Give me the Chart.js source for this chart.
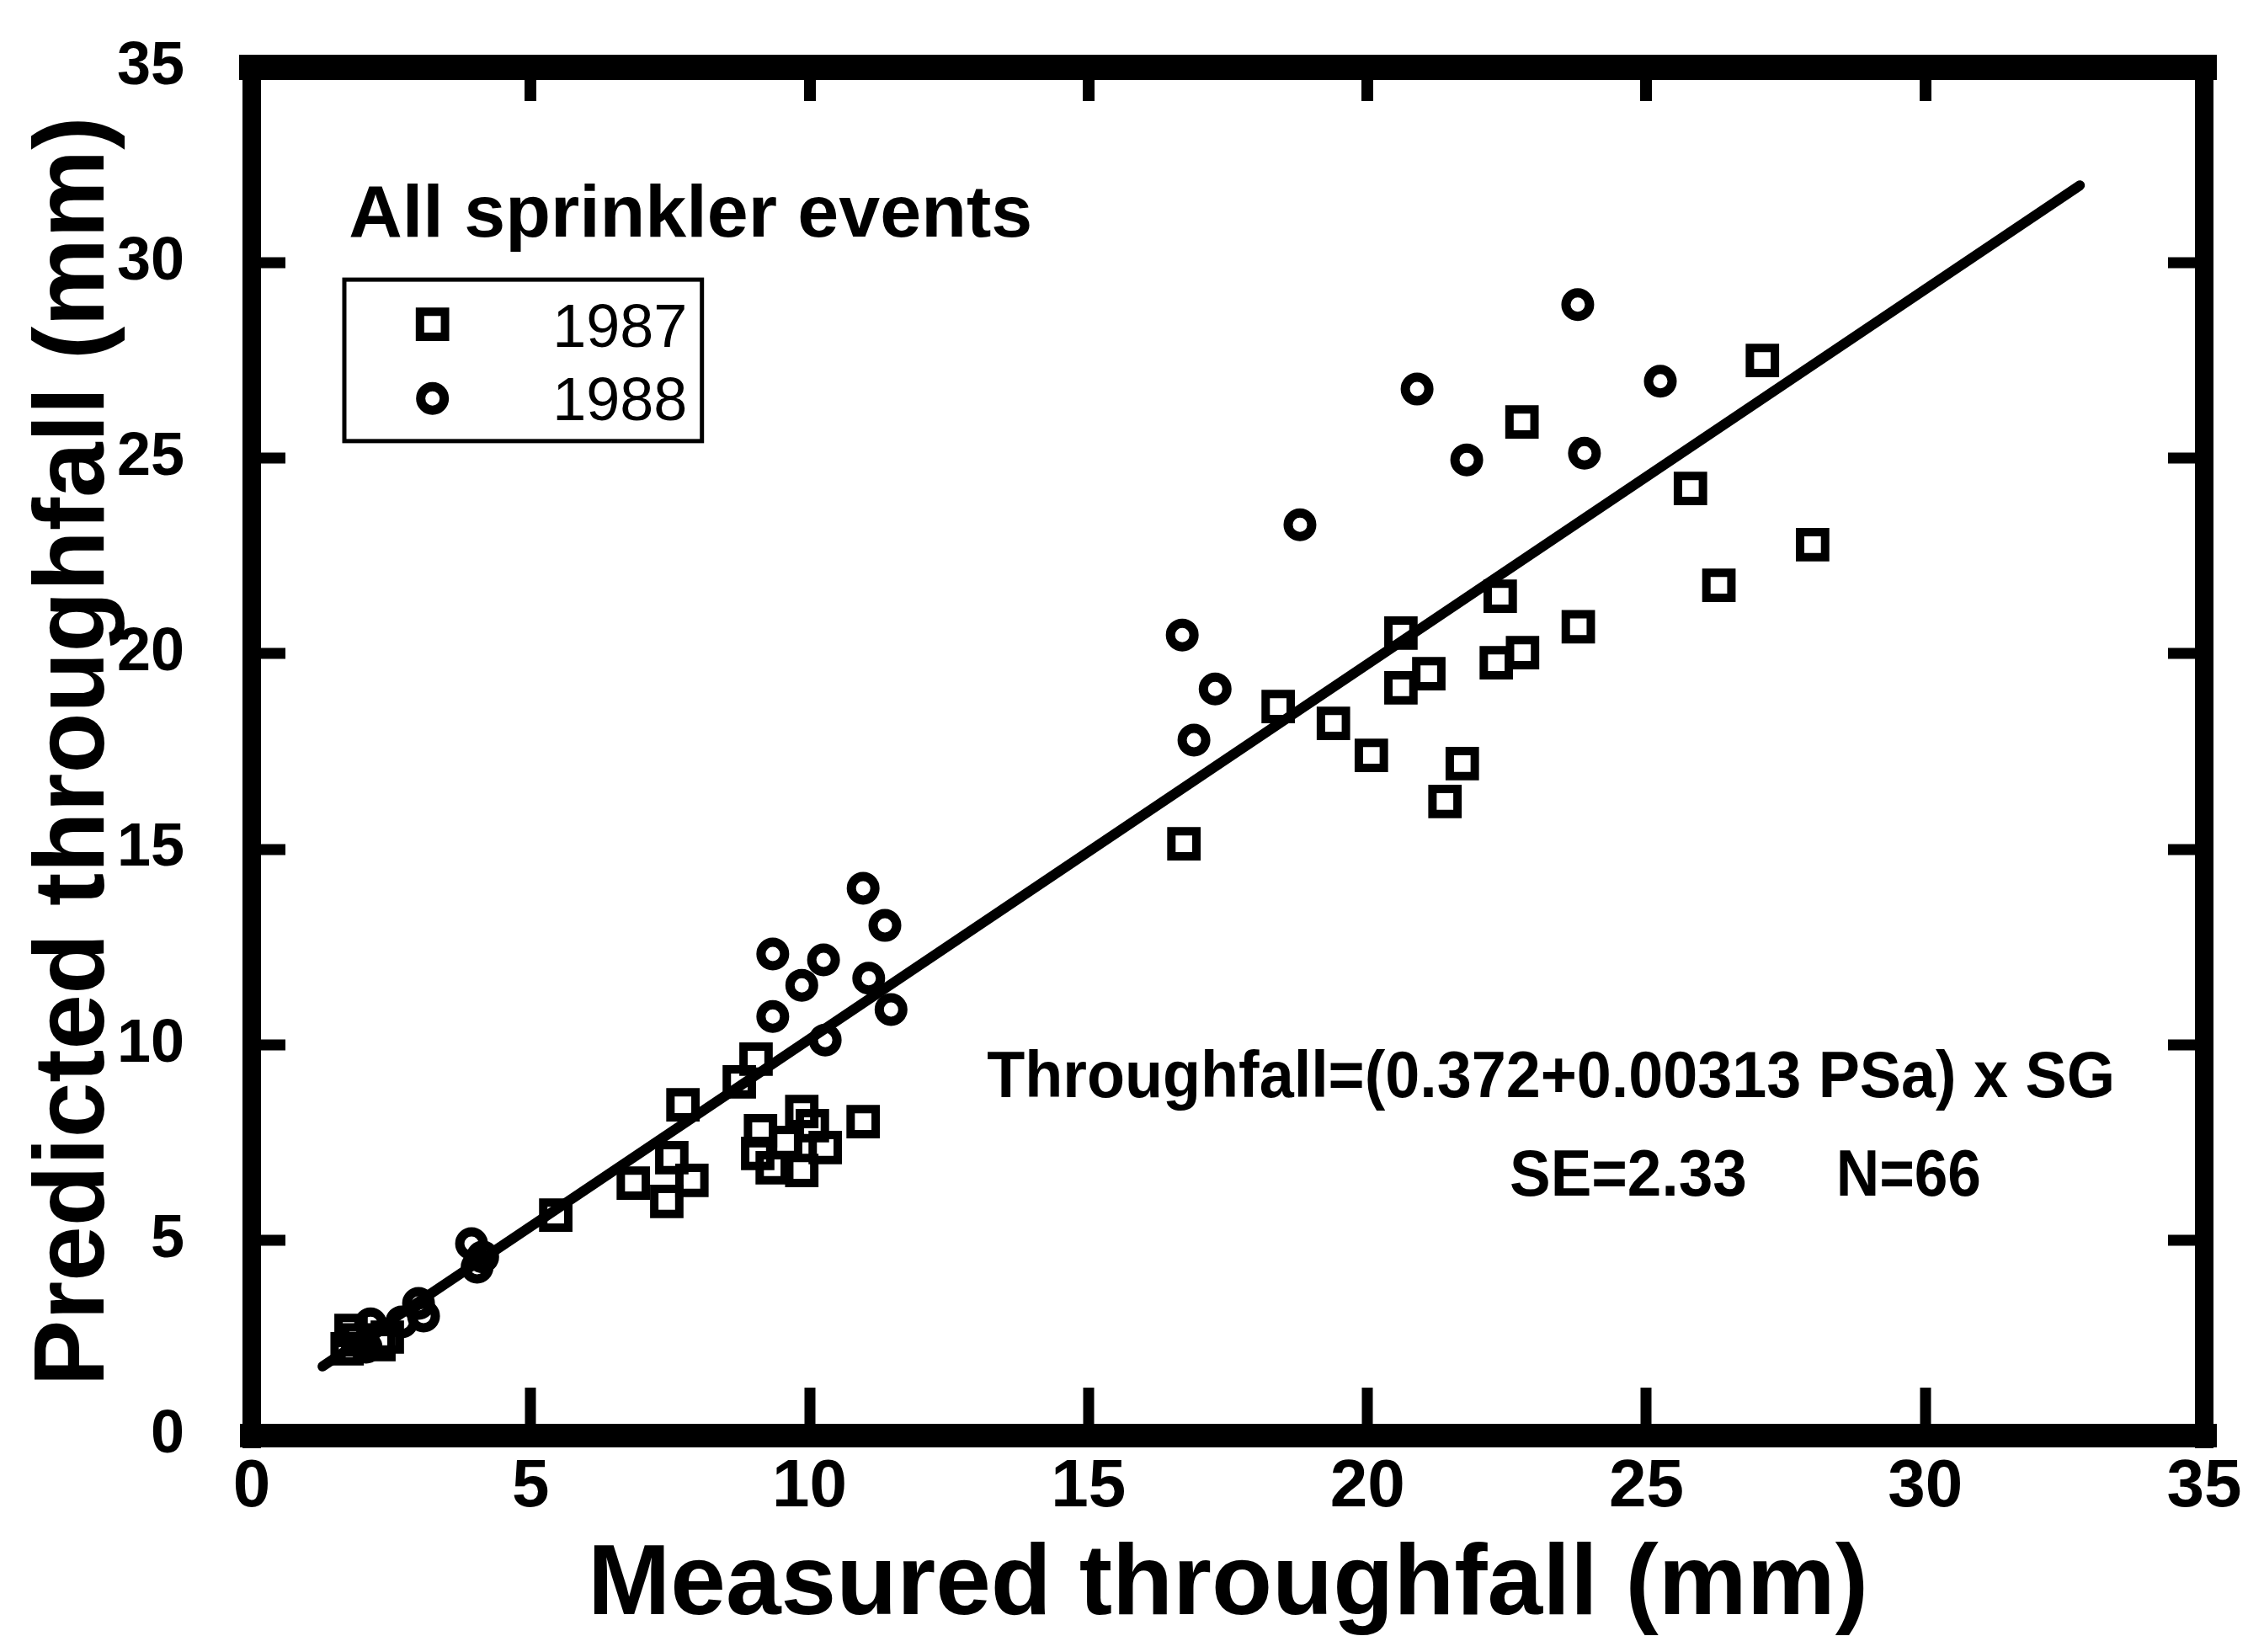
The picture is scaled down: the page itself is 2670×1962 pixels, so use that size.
<!DOCTYPE html>
<html>
<head>
<meta charset="utf-8">
<title>Predicted vs measured throughfall</title>
<script src="https://cdn.jsdelivr.net/npm/chart.js@4.4.1/dist/chart.umd.min.js"></script>
<style>
  html, body { margin: 0; padding: 0; background: #fff; }
  #wrap { width: 2670px; height: 1962px; position: relative; }
</style>
</head>
<body>
<div id="wrap"><canvas id="chart"></canvas></div>
<script>
// 1987 events (squares): measured, predicted (mm)
const sq1987X = [16.71, 18.40, 19.39, 20.07, 20.60, 20.60, 21.10, 21.70, 21.39, 22.38, 22.31, 22.78, 23.78, 22.77, 27.08, 25.79, 27.98, 26.30,
                 5.45, 6.84, 7.44, 7.53, 7.89, 7.73, 8.74, 9.04, 9.07, 9.12, 9.33, 9.57, 9.86, 9.86, 10.05, 10.28, 10.96,
                 1.78, 2.43, 1.71, 2.28, 1.90];
const sq1987Y = [15.14, 18.65, 18.22, 17.40, 20.53, 19.13, 19.49, 17.19, 16.22, 21.47, 19.77, 20.03, 20.69, 25.93, 27.50, 24.23, 22.79, 21.75,
                 5.64, 6.46, 5.99, 7.11, 6.53, 8.46, 9.05, 9.63, 7.22, 7.80, 6.85, 7.50, 8.29, 6.78, 7.93, 7.37, 8.03,
                 2.69, 2.52, 2.22, 2.33, 2.45];

// 1988 events (circles)
const ci1988X = [23.77, 20.89, 25.25, 21.78, 23.89, 18.79, 16.68, 17.27, 16.89,
                 10.96, 11.35, 9.34, 10.25, 9.86, 11.06, 9.34, 11.46, 10.28,
                 3.94, 4.04, 4.14, 2.13, 2.69, 2.05, 2.99, 3.08];
const ci1988Y = [28.93, 26.77, 26.97, 24.96, 25.13, 23.30, 20.48, 19.10, 17.79,
                 14.00, 13.05, 12.32, 12.17, 11.52, 11.70, 10.72, 10.90, 10.12,
                 4.91, 4.31, 4.57, 2.86, 2.91, 2.26, 3.38, 3.06];

// fitted line end points
const fitX = [1.27, 32.77];
const fitY = [1.77, 31.98];

const axisTicks = [0, 5, 10, 15, 20, 25, 30, 35];
const seriesNames = ['1987', '1988'];
const headline = 'All sprinkler events';
const equation = 'Throughfall=(0.372+0.00313 PSa) x SG';
const seText = 'SE=2.33';
const nText = 'N=66';

const FONT = '"Liberation Sans", Arial, Helvetica, sans-serif';
Chart.defaults.font.family = FONT;
Chart.defaults.color = '#000';

const toPts = (xs, ys) => xs.map((x, i) => ({ x: x, y: ys[i] }));

const squareStyle = { pointStyle: 'rect', radius: 21, borderWidth: 10 };
const circleStyle = { pointStyle: 'circle', radius: 14, borderWidth: 11 };

// annotations, in data units
const notes = {
  id: 'notes',
  afterDraw(chart) {
    const { ctx, scales: { x, y } } = chart;
    const px = v => x.getPixelForValue(v);
    const py = v => y.getPixelForValue(v);
    ctx.save();
    ctx.strokeStyle = '#000';
    ctx.textBaseline = 'alphabetic';
    ctx.textAlign = 'left';

    ctx.fillStyle = '#000';
    ctx.font = 'bold 88px ' + FONT;
    ctx.fillText(headline, px(1.74), py(30.67));

    // legend box
    ctx.lineWidth = 5;
    ctx.strokeRect(px(1.66), py(29.57), px(8.07) - px(1.66), py(25.44) - py(29.57));
    const marks = [squareStyle, circleStyle];
    const rows = [28.43, 26.53];
    const base = [27.85, 25.97];
    ctx.font = '72px ' + FONT;
    seriesNames.forEach((name, i) => {
      ctx.fillStyle = 'rgba(0,0,0,0)';
      ctx.lineWidth = marks[i].borderWidth;
      Chart.helpers.drawPoint(ctx, {
        pointStyle: marks[i].pointStyle, radius: marks[i].radius,
        borderWidth: marks[i].borderWidth, rotation: 0
      }, px(3.24), py(rows[i]));
      ctx.fillStyle = '#000';
      ctx.fillText(name, px(5.39), py(base[i]));
    });

    ctx.font = 'bold 78px ' + FONT;
    ctx.fillText(equation, px(13.18), py(8.66), px(33.40) - px(13.18));
    ctx.fillText(seText, px(22.55), py(6.14), px(26.80) - px(22.55));
    ctx.fillText(nText, px(28.40), py(6.14), px(31.00) - px(28.40));
    ctx.restore();
  }
};

const tickFont = { family: FONT, size: 80, weight: 'bold' };
const yTickFont = { family: FONT, size: 72, weight: 'bold' };
const titleFont = { family: FONT, size: 118, weight: 'bold' };

// fix each axis box so the plot area lands where the original frame is
const fixBox = (w, h) => s => {
  if (w !== null) s.width = w;
  if (h !== null) s.height = h;
  s.paddingLeft = 0; s.paddingRight = 0; s.paddingTop = 0; s.paddingBottom = 0;
};

new Chart(document.getElementById('chart'), {
  type: 'scatter',
  data: {
    datasets: [
      {
        label: seriesNames[0],
        data: toPts(sq1987X, sq1987Y),
        pointStyle: squareStyle.pointStyle,
        pointRadius: squareStyle.radius,
        pointBorderWidth: squareStyle.borderWidth,
        borderColor: '#000',
        backgroundColor: 'rgba(0,0,0,0)'
      },
      {
        label: seriesNames[1],
        data: toPts(ci1988X, ci1988Y),
        pointStyle: circleStyle.pointStyle,
        pointRadius: circleStyle.radius,
        pointBorderWidth: circleStyle.borderWidth,
        borderColor: '#000',
        backgroundColor: 'rgba(0,0,0,0)'
      },
      {
        type: 'line',
        label: 'fit',
        data: toPts(fitX, fitY),
        borderColor: '#000',
        borderWidth: 12,
        borderCapStyle: 'round',
        pointRadius: 0,
        fill: false
      }
    ]
  },
  options: {
    responsive: true,
    maintainAspectRatio: false,
    devicePixelRatio: 1,
    animation: false,
    layout: { padding: 0 },
    plugins: { legend: { display: false }, tooltip: { enabled: false } },
    scales: {
      x: {
        type: 'linear', position: 'bottom', min: 0, max: 35,
        afterBuildTicks: s => { s.ticks = axisTicks.map(v => ({ value: v })); },
        ticks: { color: '#000', font: tickFont, padding: 71, maxRotation: 0, autoSkip: false },
        grid: { drawOnChartArea: false, drawTicks: true, tickLength: -57, tickWidth: 13, tickColor: '#000', lineWidth: 30 },
        border: { display: true, color: '#000', width: 28 },
        title: { display: true, text: 'Measured throughfall (mm)', color: '#000', font: titleFont, padding: { top: 0, bottom: 7 } },
        afterFit: fixBox(null, 257)
      },
      x2: {
        type: 'linear', position: 'top', min: 0, max: 35,
        afterBuildTicks: s => { s.ticks = axisTicks.map(v => ({ value: v })); },
        ticks: { display: false },
        grid: { drawOnChartArea: false, drawTicks: true, tickLength: -40, tickWidth: 14, tickColor: '#000', lineWidth: 30 },
        border: { display: true, color: '#000', width: 30 },
        afterFit: fixBox(null, 80)
      },
      y: {
        type: 'linear', position: 'left', min: 0, max: 35,
        afterBuildTicks: s => { s.ticks = axisTicks.map(v => ({ value: v })); },
        ticks: { color: '#000', font: yTickFont, padding: 120, autoSkip: false },
        grid: { drawOnChartArea: false, drawTicks: true, tickLength: -40, tickWidth: 13, tickColor: '#000', lineWidth: 30 },
        border: { display: true, color: '#000', width: 22 },
        title: { display: true, text: 'Predicted throughfall (mm)', color: '#000', font: titleFont, padding: { top: 20, bottom: 0 } },
        afterFit: fixBox(299, null)
      },
      y2: {
        type: 'linear', position: 'right', min: 0, max: 35,
        afterBuildTicks: s => { s.ticks = axisTicks.map(v => ({ value: v })); },
        ticks: { display: false },
        grid: { drawOnChartArea: false, drawTicks: true, tickLength: -43, tickWidth: 13, tickColor: '#000', lineWidth: 30 },
        border: { display: true, color: '#000', width: 22 },
        afterFit: fixBox(52, null)
      }
    }
  },
  plugins: [notes]
});
</script>
</body>
</html>
